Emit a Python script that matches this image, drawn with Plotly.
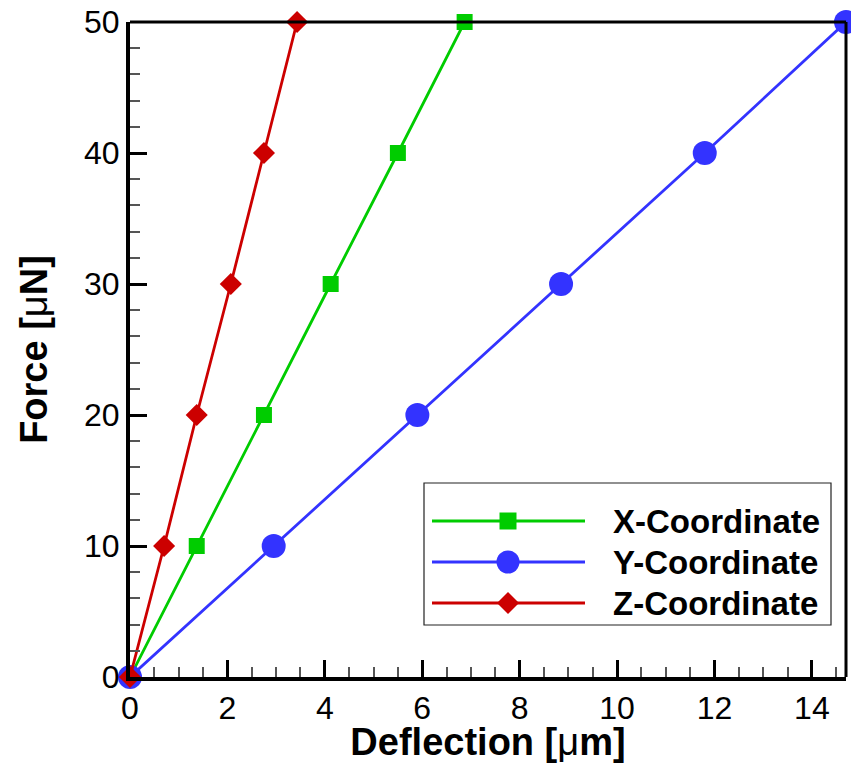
import plotly.graph_objects as go

# Applied force [uN] and measured deflection [um] per coordinate direction
force = [0, 10, 20, 30, 40, 50]
defl_x = [0, 1.37, 2.75, 4.12, 5.50, 6.87]
defl_y = [0, 2.95, 5.90, 8.85, 11.80, 14.70]
defl_z = [0, 0.70, 1.37, 2.07, 2.75, 3.43]

series_names = ["X-Coordinate", "Y-Coordinate", "Z-Coordinate"]
series_data = [defl_x, defl_y, defl_z]
colors = ["#00CC00", "#3333FF", "#CC0000"]
symbols = ["square", "circle", "diamond"]
sizes = [16, 24, 17]

X_RANGE = [0, 14.7]
Y_RANGE = [0, 50]
X_MAJOR, X_MINOR = 2, 0.5
Y_MAJOR, Y_MINOR = 10, 2

W, H = 851, 763
ML, MR, MT, MB = 130, 5, 22, 86
PW, PH = W - ML - MR, H - MT - MB

FONT = "Liberation Sans, Arial, Helvetica, sans-serif"

fig = go.Figure()
for name, xs, c, sym, sz in zip(series_names, series_data, colors, symbols, sizes):
    fig.add_trace(go.Scatter(
        x=xs, y=force, name=name, mode="lines+markers",
        line=dict(color=c, width=2.8),
        marker=dict(symbol=sym, size=sz, color=c, line=dict(width=0)),
        cliponaxis=False, showlegend=False,
    ))


def px(x):
    return (x - ML) / PW


def py(y):
    return (H - MB - y) / PH


shapes = []
# frame: top and right edges
shapes.append(dict(type="line", xref="paper", yref="paper", x0=0, x1=1, y0=1, y1=1,
                   line=dict(color="black", width=3)))
shapes.append(dict(type="line", xref="paper", yref="paper", x0=1, x1=1, y0=0, y1=1,
                   line=dict(color="black", width=3)))

# legend box
shapes.append(dict(type="rect", xref="paper", yref="paper",
                   x0=px(424), x1=px(831), y0=py(625), y1=py(483),
                   line=dict(color="#222", width=1.2), fillcolor="white", layer="above"))

annotations = []
row_y = [521, 562, 603]
mx = 508
for i, (name, c) in enumerate(zip(series_names, colors)):
    ry = row_y[i]
    shapes.append(dict(type="line", xref="paper", yref="paper",
                       x0=px(432), x1=px(585), y0=py(ry), y1=py(ry),
                       line=dict(color=c, width=2.8), layer="above"))
    if symbols[i] == "square":
        h = 8.5
        shapes.append(dict(type="rect", xref="paper", yref="paper",
                           x0=px(mx - h), x1=px(mx + h), y0=py(ry + h), y1=py(ry - h),
                           line=dict(width=0), fillcolor=c, layer="above"))
    elif symbols[i] == "circle":
        r = 11.5
        shapes.append(dict(type="circle", xref="paper", yref="paper",
                           x0=px(mx - r), x1=px(mx + r), y0=py(ry + r), y1=py(ry - r),
                           line=dict(width=0), fillcolor=c, layer="above"))
    else:
        r = 11
        path = "M {a},{b} L {c},{d} L {a},{e} L {f},{d} Z".format(
            a=px(mx), b=py(ry - r), c=px(mx + r), d=py(ry), e=py(ry + r), f=px(mx - r))
        shapes.append(dict(type="path", xref="paper", yref="paper", path=path,
                           line=dict(width=0), fillcolor=c, layer="above"))
    annotations.append(dict(xref="paper", yref="paper", x=px(611), y=py(ry),
                            xanchor="left", yanchor="middle", showarrow=False,
                            text="<b>" + name + "</b>",
                            font=dict(family=FONT, size=33, color="black")))

fig.update_layout(
    width=W, height=H,
    margin=dict(l=ML, r=MR, t=MT, b=MB),
    plot_bgcolor="white", paper_bgcolor="white",
    shapes=shapes,
    annotations=annotations,
    showlegend=False,
)

fig.update_xaxes(
    range=X_RANGE, tickmode="linear", tick0=0, dtick=X_MAJOR,
    showline=True, linecolor="black", linewidth=4,
    ticks="inside", ticklen=17, tickwidth=3, tickcolor="black",
    minor=dict(ticks="inside", dtick=X_MINOR, ticklen=10, tickwidth=1.5, tickcolor="#555555"),
    showgrid=False, zeroline=False, automargin=False,
    tickfont=dict(family=FONT, size=32, color="black"),
    title_text="<b>Deflection [</b>μ<b>m]</b>", title_standoff=8,
    title_font=dict(family=FONT, size=38, color="black"),
)
fig.update_yaxes(
    range=Y_RANGE, tickmode="linear", tick0=0, dtick=Y_MAJOR,
    showline=True, linecolor="black", linewidth=4,
    ticks="inside", ticklen=17, tickwidth=3, tickcolor="black",
    minor=dict(ticks="inside", dtick=Y_MINOR, ticklen=10, tickwidth=1.5, tickcolor="#555555"),
    showgrid=False, zeroline=False, automargin=False,
    tickfont=dict(family=FONT, size=32, color="black"),
    title_text="<b>Force [</b>μ<b>N]</b>", title_standoff=26,
    title_font=dict(family=FONT, size=38, color="black"),
)

fig.write_html("out.html")
